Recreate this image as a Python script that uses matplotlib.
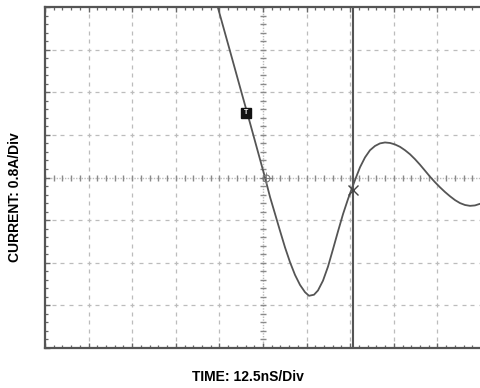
import matplotlib
matplotlib.use("Agg")
import matplotlib.pyplot as plt
import numpy as np

# Waveform (x in divisions 0..10, y in divisions -4..4)
time_div = [3.899, 3.968, 4.243, 4.472, 4.702, 4.885, 5.046, 5.161, 5.275,
            5.390, 5.505, 5.619, 5.734, 5.849, 5.963, 6.055, 6.170, 6.261,
            6.376, 6.491, 6.606, 6.720, 6.835, 6.950, 7.041, 7.133, 7.225,
            7.339, 7.454, 7.569, 7.683, 7.798, 7.913, 8.028, 8.142, 8.257,
            8.372, 8.486, 8.601, 8.716, 8.830, 8.945, 9.060, 9.174, 9.289,
            9.404, 9.518, 9.633, 9.748, 9.862, 10.000]
current_div = [4.235, 3.977, 2.968, 2.123, 1.279, 0.598, 0.0, -0.457, -0.850,
               -1.250, -1.640, -1.985, -2.285, -2.520, -2.690, -2.775, -2.750, -2.650,
               -2.420, -2.090, -1.680, -1.265, -0.860, -0.505, -0.246, 0.0, 0.240,
               0.470, 0.640, 0.740, 0.800, 0.822, 0.810, 0.775, 0.720, 0.640,
               0.545, 0.430, 0.300, 0.160, 0.020, -0.110, -0.230, -0.340, -0.440,
               -0.530, -0.600, -0.645, -0.665, -0.655, -0.610]

cursor_x = 7.06
cursor_mark = (7.06, -0.30)
trigger_mark = (5.06, 0.0)
t_marker = (4.62, 1.52)

x_label = "TIME: 12.5nS/Div"
y_label = "CURRENT: 0.8A/Div"

fig = plt.figure(figsize=(4.8, 3.88), dpi=100)
ax = fig.add_axes([45/480, 1-348/388, 436/480, 341/388])
ax.set_xlim(0, 10)
ax.set_ylim(-4, 4)

grid_c = '#bcbcbc'
minor_x = np.arange(0, 10.01, 0.2)
minor_y = np.arange(-4, 4.01, 0.2)
# dotted graticule
for gx in range(1, 11):
    if gx == 5:
        continue
    ax.plot([gx]*len(minor_y), minor_y, ls='none', marker='|', ms=2.2, mew=0.9, color=grid_c, zorder=1)
for gy in range(-3, 4):
    if gy == 0:
        continue
    ax.plot(minor_x, [gy]*len(minor_x), ls='none', marker='_', ms=2.2, mew=0.9, color=grid_c, zorder=1)

# central cross with ticks
ax.axhline(0, color='#bbbbbb', lw=1.0, ls=(0, (1, 1)), zorder=1)
ax.axvline(5, color='#bbbbbb', lw=1.0, ls=(0, (1, 1)), zorder=1)
ax.plot(minor_x, [0]*len(minor_x), ls='none', marker='|', ms=4.5, mew=1.0, color='#8a8a8a', zorder=1)
ax.plot([5]*len(minor_y), minor_y, ls='none', marker='_', ms=4.5, mew=1.0, color='#8a8a8a', zorder=1)

# frame
for s in ['left', 'top', 'bottom']:
    ax.spines[s].set_color('#555555')
    ax.spines[s].set_linewidth(1.6)
ax.spines['right'].set_visible(False)
ax.set_xticks(np.arange(0, 11, 1))
ax.set_yticks(np.arange(-4, 5, 1))
ax.set_xticks(minor_x, minor=True)
ax.set_yticks(minor_y, minor=True)
ax.tick_params(which='both', direction='in', top=True, bottom=True, left=True, right=False,
               labelbottom=False, labelleft=False, color='#666666')
ax.tick_params(which='major', length=3.5, width=1.0)
ax.tick_params(which='minor', length=2.5, width=0.9)

# cursor line
ax.axvline(cursor_x, color='#555555', lw=1.5, zorder=3)

# waveform
ax.plot(time_div, current_div, color='#555555', lw=1.3, zorder=4,
        solid_joinstyle='round', solid_capstyle='round')

# markers
ax.plot(*cursor_mark, marker='x', ms=7, mew=1.0, color='#444444', zorder=5)
ax.plot(*trigger_mark, marker='o', ms=5, mfc='none', mew=0.8, color='#777777', zorder=5)
ax.plot(*trigger_mark, marker='+', ms=8, mew=0.6, color='#777777', zorder=5)
ax.plot(*t_marker, marker='s', ms=7, color='#111111', zorder=6)
ax.text(t_marker[0], t_marker[1], 'T', color='white', fontsize=5, fontweight='bold',
        ha='center', va='center', family='Liberation Sans', zorder=7)

fig.text(248/480, 1-377/388, x_label, ha='center', va='center', fontsize=10,
         fontweight='bold', family='Liberation Sans')
fig.text(15/480, 1-197/388, y_label, ha='center', va='center', fontsize=10,
         fontweight='bold', family='Liberation Sans', rotation=90)

fig.savefig('out.png', dpi=100)
